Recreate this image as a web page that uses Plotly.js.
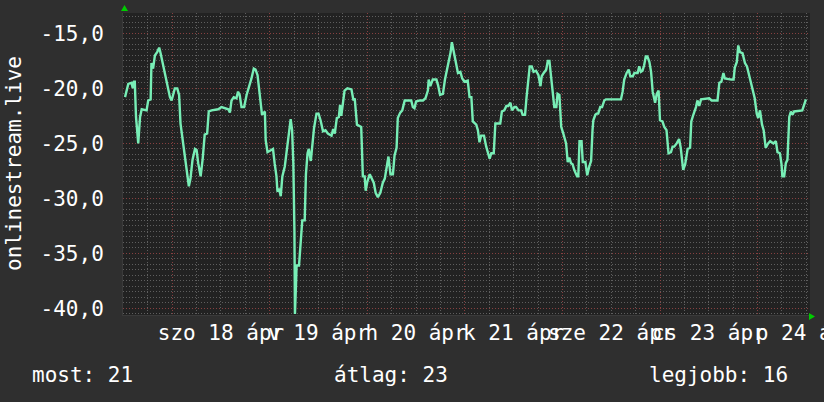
<!DOCTYPE html>
<html>
<head>
<meta charset="utf-8">
<script src="https://cdn.plot.ly/plotly-3.0.1.min.js"></script>
<style>html,body{margin:0;padding:0;background:#2f2f2f;}#chart{width:824px;height:402px;}</style>
</head>
<body>
<div id="chart"></div>
<script>
// hours relative to 18 Apr 00:00
const hours = [-11.6,-11.2,-10.8,-10,-9.7,-9.4,-9.2,-8.9,-8.35,-7.9,-7.5,-6.3,-5.9,-5.3,-5.1,-4.7,-4.25,-3.7,-3.2,-2.85,-2.35,-1.8,-1.2,-0.55,-0.15,0.25,0.65,1.25,1.7,2.05,2.7,3.2,3.7,4.1,4.5,5,5.6,6,6.4,7,7.5,8,8.6,9,9.7,11.3,12.15,13.2,13.8,14.2,14.6,15.15,15.8,16.2,16.6,
17.05,17.7,18.3,18.85,19.5,20.07,20.5,21,21.4,21.8,22.1,22.8,23.0,23.45,24.0,24.8,25.2,25.65,25.9,26.3,26.7,27.1,27.7,28.1,28.5,28.9,29.15,29.5,29.8,30.07,30.2,30.5,30.6,31.2,31.5,32.0,32.6,32.9,33.3,33.6,34.1,34.5,34.9,35.5,36.0,36.5,37.1,37.7,38.3,39.2,39.6,40.0,40.5,41.0,41.3,41.6,41.9,42.4,43.1,44.1,44.6,
44.9,45.45,46.5,46.9,47.35,47.6,48.0,48.6,49.1,49.6,50.05,50.6,51.2,51.8,52.3,52.7,53.2,53.7,54.3,54.7,55.2,55.5,56.1,56.6,57.2,58.4,58.8,59.2,59.6,60.0,60.9,61.7,62.3,62.9,63.1,63.5,64.1,65.0,65.4,65.9,66.6,67.1,67.6,68.1,68.5,68.8,69.2,69.7,70.3,70.9,71.35,71.9,72.7,73.15,
73.6,73.95,74.8,75.2,75.6,76.0,76.7,77.25,77.6,78.1,78.5,79.1,79.5,80.7,81.1,81.7,82.2,82.7,83.2,83.6,84.2,84.6,85.2,85.85,86.2,86.8,87.15,87.6,87.95,88.45,88.9,89.5,90.1,90.6,90.9,91.4,92.0,92.4,92.8,93.2,93.6,94.0,94.5,94.8,95.25,95.7,96.2,96.9,97.3,97.7,98.1,98.5,98.9,99.6,99.9,100.2,100.7,
101.0,101.65,102.1,102.6,103.05,103.4,103.6,104.1,104.4,104.8,105.3,105.75,106.3,106.7,110.4,110.8,111.2,111.8,112.3,112.7,113.3,113.7,114.5,114.9,115.3,115.7,116.1,116.5,116.9,117.4,117.8,118.2,118.6,118.8,119.2,119.65,120.0,120.6,121.05,121.6,122.1,122.7,123.1,123.5,124.1,124.7,125.1,125.7,126.2,126.8,127.4,127.7,128.2,128.85,129.2,
129.65,130.1,132.1,132.7,134.15,134.6,135.1,135.6,135.95,137.6,138.1,138.4,138.9,139.25,139.65,140.3,140.9,141.4,141.8,142.2,142.75,143.3,143.8,144.15,144.6,145.1,145.5,146.0,146.6,147.1,147.9,148.5,148.9,149.5,149.9,150.1,150.55,150.95,151.35,151.8,152.2,152.6,153.0,154.6,155.0,155.45,155.9];

const values = [-20.8,-20.2,-19.6,-19.5,-20,-19.4,-19.4,-22.6,-25,-22.6,-21.9,-22,-21.1,-21,-17.7,-18.2,-17,-16.7,-16.3,-16.8,-17.7,-18.6,-19.7,-20.8,-21.1,-20.6,-20,-20,-20.6,-23.2,-25,-26.8,-28.2,-28.9,-28.2,-26.5,-25.5,-25.6,-26.8,-28,-26.4,-24.2,-24.1,-22.1,-22,-21.9,-21.7,-21.8,-21.9,-22.2,-21.1,-20.8,-20.9,-20.3,-20.6,
-21.7,-21.7,-20.6,-20,-19.1,-18.2,-18.3,-18.8,-20.2,-21.4,-22.4,-22.1,-24.7,-25.8,-25.7,-25.5,-26.8,-28,-29.4,-29.1,-29.8,-28,-27.1,-25.8,-25,-23.8,-22.8,-23.8,-26.8,-32.9,-40.5,-37.4,-36.1,-36.1,-34.4,-32,-32,-27.8,-25.9,-25.5,-26.6,-25,-23.6,-22.3,-22.3,-22.9,-23.9,-23.8,-24.1,-24.3,-23.7,-24.1,-22.7,-22.6,-21.5,-22.5,-21.5,-20.2,-20,-20.1,-21.1,
-20.9,-23.3,-23.5,-28,-28,-29.3,-28.5,-27.8,-28.2,-28.6,-29.5,-29.9,-29.5,-28.6,-28.2,-27.1,-26.2,-27.8,-27.8,-26.1,-25.4,-22.7,-22.2,-22,-21.1,-21.1,-21.1,-21.7,-21.8,-21.2,-21.1,-21.1,-20.9,-20.2,-19.2,-19.8,-19.2,-19.2,-19.7,-20.6,-20.5,-19.2,-18.3,-17.7,-16.7,-15.8,-16.5,-17.7,-18.6,-18.5,-19.1,-19.4,-19.3,-20.8,
-20.8,-23,-23.3,-23.8,-24.9,-24.3,-24.3,-25.3,-25.8,-26.4,-25.9,-25.9,-23.2,-23.2,-22.1,-22,-21.6,-21.6,-21.3,-22,-21.7,-21.7,-22,-22,-22.4,-22.4,-20.9,-19.5,-18,-18,-18.5,-18.4,-18.8,-19.8,-18.9,-18.6,-18.3,-17.5,-17.5,-18.9,-20.5,-21.7,-21.7,-20.5,-20.6,-23.5,-24.1,-25,-26.7,-26.3,-26.8,-26.9,-27.4,-28,-28,-24.8,-24.8,
-26.7,-26.7,-27.9,-27.1,-26.6,-23.8,-22.9,-22.4,-22.3,-22.3,-21.7,-21.7,-21.1,-21,-21,-20.3,-19.2,-18.6,-18.3,-18.9,-18.9,-18.6,-18.6,-18,-18.5,-18.4,-17.9,-17.1,-17.1,-17.6,-18.5,-20.3,-20.9,-21.3,-20.5,-20.2,-22.9,-23,-23.5,-23.8,-25.9,-25.8,-25.3,-25.3,-25,-24.6,-25.4,-27.4,-26.9,-25.5,-25.4,-23,-22.4,-21.7,-21.1,
-21.6,-21,-20.9,-21.1,-21.1,-19.5,-19.4,-18.6,-19.1,-19.2,-19.2,-18.1,-17.6,-16.1,-16.7,-16.8,-17.7,-18,-18.6,-19.2,-20.3,-20.9,-22.3,-22.7,-22,-23.3,-23.8,-25.4,-25,-24.8,-25,-24.8,-25.8,-25.9,-26.9,-28,-28,-26.8,-26.5,-22.6,-22.1,-22.4,-22.1,-22,-22,-21.5,-21];

const dayGridHours = [0,24,48,72,96,120,144];
const dayLabelHours = [12,36,60,84,108,132,156];
const dayLabels = ['szo 18 ápr','v 19 ápr','h 20 ápr','k 21 ápr','sze 22 ápr','cs 23 ápr','p 24 ápr'];
const yTickVals = [-40,-35,-30,-25,-20,-15];
const yTickText = ['-40,0','-35,0','-30,0','-25,0','-20,0','-15,0'];
const yTitle = 'onlinestream.live';
const legendItems = ['most: 21','átlag: 23','legjobb: 16'];

const FONT = 'DejaVu Sans Mono, monospace';
const xRange = [-12.1, 156.9];
const W = 824, L = 123, R = 14;
const plotW = W - L - R;
const px = p => (p - L) / plotW;

const minorGrid = 'rgba(120,120,120,0.7)';
const majorGrid = 'rgba(150,55,55,0.75)';

const data = [
  {x: hours, y: values, type: 'scatter', mode: 'lines', xaxis: 'x', yaxis: 'y',
   line: {color: '#78eeb6', width: 2.4}, hoverinfo: 'skip', showlegend: false},
  {x: dayLabelHours, y: dayLabelHours.map(() => null), type: 'scatter', mode: 'lines',
   xaxis: 'x2', yaxis: 'y', hoverinfo: 'skip', showlegend: false}
];

const layout = {
  width: 824, height: 402,
  paper_bgcolor: '#2f2f2f', plot_bgcolor: '#222222',
  margin: {l: L, r: R, t: 13, b: 87, pad: 0},
  font: {family: FONT, size: 21, color: '#ffffff'},
  showlegend: false,
  xaxis: {
    type: 'linear', range: xRange, tickmode: 'array', tickvals: dayGridHours,
    showticklabels: false, ticks: '', showgrid: true, gridcolor: majorGrid, griddash: '1px,2px', gridwidth: 1,
    zeroline: false, showline: true, linecolor: '#3a3a3a', linewidth: 1,
    minor: {tickmode: 'linear', tick0: 0, dtick: 6, showgrid: true, gridcolor: minorGrid, griddash: '1px,2px', gridwidth: 1, ticks: ''}
  },
  xaxis2: {
    type: 'linear', range: xRange, overlaying: 'x', anchor: 'y', side: 'bottom',
    tickmode: 'array', tickvals: dayLabelHours, ticktext: dayLabels, tickangle: 0,
    ticklabeloverflow: 'allow',
    showgrid: false, zeroline: false, ticks: '', ticklabelstandoff: 3,
    tickfont: {family: FONT, size: 21, color: '#ffffff'}
  },
  yaxis: {
    range: [-40.6, -13.15], tickmode: 'array', tickvals: yTickVals, ticktext: yTickText,
    showgrid: true, gridcolor: majorGrid, griddash: '1px,2px', gridwidth: 1, zeroline: false,
    ticks: '', ticklabelstandoff: 14, showline: true, linecolor: '#3a3a3a',
    tickfont: {family: FONT, size: 21, color: '#ffffff'},
    minor: {tickmode: 'linear', tick0: 0, dtick: 0.5, showgrid: true, gridcolor: minorGrid, griddash: '1px,2px', gridwidth: 1, ticks: ''}
  },
  annotations: [
    {text: yTitle, xref: 'paper', yref: 'paper', x: px(14), y: 0.5, xanchor: 'center', yanchor: 'middle',
     textangle: -90, showarrow: false, font: {family: FONT, size: 21, color: '#ffffff'}},
    {text: legendItems[0], xref: 'paper', yref: 'paper', x: px(30), y: -60/302, xanchor: 'left', yanchor: 'middle',
     showarrow: false, font: {family: FONT, size: 21, color: '#ffffff'}},
    {text: legendItems[1], xref: 'paper', yref: 'paper', x: px(332), y: -60/302, xanchor: 'left', yanchor: 'middle',
     showarrow: false, font: {family: FONT, size: 21, color: '#ffffff'}},
    {text: legendItems[2], xref: 'paper', yref: 'paper', x: px(647), y: -60/302, xanchor: 'left', yanchor: 'middle',
     showarrow: false, font: {family: FONT, size: 21, color: '#ffffff'}}
  ],
  shapes: [
    {type: 'path', xref: 'paper', yref: 'paper',
     path: `M ${px(121)} ${1 + 2/302} L ${px(128)} ${1 + 2/302} L ${px(124.5)} ${1 + 8/302} Z`,
     fillcolor: '#00cc00', line: {width: 0}},
    {type: 'path', xref: 'paper', yref: 'paper',
     path: `M ${px(809)} ${2/302} L ${px(809)} ${-5/302} L ${px(815)} ${-1.5/302} Z`,
     fillcolor: '#00cc00', line: {width: 0}}
  ]
};

Plotly.newPlot('chart', data, layout, {displayModeBar: false, staticPlot: true});
</script>
</body>
</html>
